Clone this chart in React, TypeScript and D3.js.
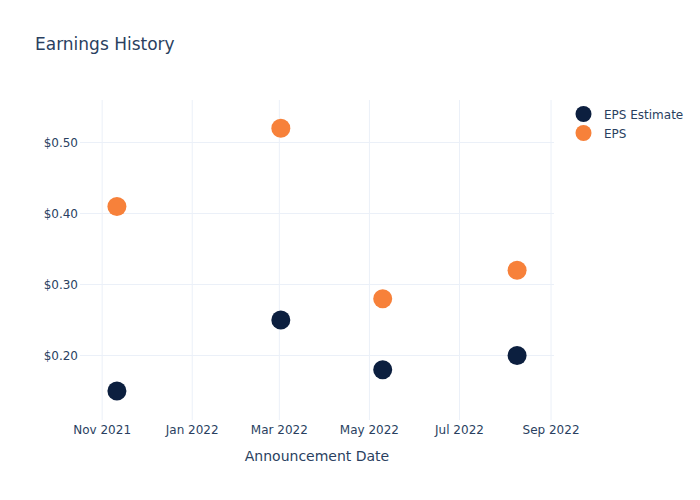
import React from "react";
import * as d3 from "d3";

const dates = ["2021-11-11", "2022-03-02", "2022-05-10", "2022-08-09"];
const epsEstimate = [0.15, 0.25, 0.18, 0.2];
const eps = [0.41, 0.52, 0.28, 0.32];
const yTicks = [0.2, 0.3, 0.4, 0.5];
const xTicks = ["2021-11-01", "2022-01-01", "2022-03-01", "2022-05-01", "2022-07-01", "2022-09-01"];
const seriesNames = ["EPS Estimate", "EPS"];
const seriesColors = ["#0c1f3f", "#f7813a"];

const W = 700;
const H = 500;
const M = { l: 80, r: 146, t: 100, b: 80 };
const FONT = "'DejaVu Sans', Verdana, sans-serif";
const TEXT = "#2a3f5f";

export default function App() {
  const parse = d3.utcParse("%Y-%m-%d");
  const x = d3
    .scaleUtc()
    .domain([new Date(Date.UTC(2021, 9, 17, 0, 0)), new Date(Date.UTC(2022, 8, 3))])
    .range([M.l, W - M.r]);
  const y = d3.scaleLinear().domain([0.10915, 0.5599]).range([H - M.b, M.t]);
  const fmtX = d3.utcFormat("%b %Y");
  const fmtY = (v: number) => "$" + v.toFixed(2);
  const series = [epsEstimate, eps];

  return (
    <svg width={W} height={H} style={{ display: "block", position: "absolute", left: 0, top: 0 }}>
      <rect x={0} y={0} width={W} height={H} fill="#fff" />
      <text x={35} y={50} fontFamily={FONT} fontSize={17} fill={TEXT}>
        Earnings History
      </text>
      {xTicks.map((t) => {
        const px = x(parse(t)!);
        return (
          <g key={t}>
            <line x1={px} x2={px} y1={M.t} y2={H - M.b} stroke="#ebf0f8" strokeWidth={1} />
            <text x={px} y={434} textAnchor="middle" fontFamily={FONT} fontSize={12} fill={TEXT}>
              {fmtX(parse(t)!)}
            </text>
          </g>
        );
      })}
      {yTicks.map((t) => {
        const py = y(t);
        return (
          <g key={t}>
            <line x1={M.l} x2={W - M.r} y1={py} y2={py} stroke="#ebf0f8" strokeWidth={1} />
            <text x={78} y={py + 4} textAnchor="end" fontFamily={FONT} fontSize={12} fill={TEXT}>
              {fmtY(t)}
            </text>
          </g>
        );
      })}
      <text x={(M.l + W - M.r) / 2} y={461} textAnchor="middle" fontFamily={FONT} fontSize={14} fill={TEXT}>
        Announcement Date
      </text>
      {series.map((vals, si) =>
        vals.map((v, i) => (
          <circle
            key={si + "-" + i}
            cx={x(parse(dates[i])!)}
            cy={y(v)}
            r={9.5}
            fill={seriesColors[si]}
          />
        ))
      )}
      {seriesNames.map((n, i) => (
        <g key={n}>
          <circle cx={583.5} cy={114 + i * 19} r={8} fill={seriesColors[i]} />
          <text x={604} y={118.5 + i * 19} fontFamily={FONT} fontSize={12} fill={TEXT}>
            {n}
          </text>
        </g>
      ))}
    </svg>
  );
}
